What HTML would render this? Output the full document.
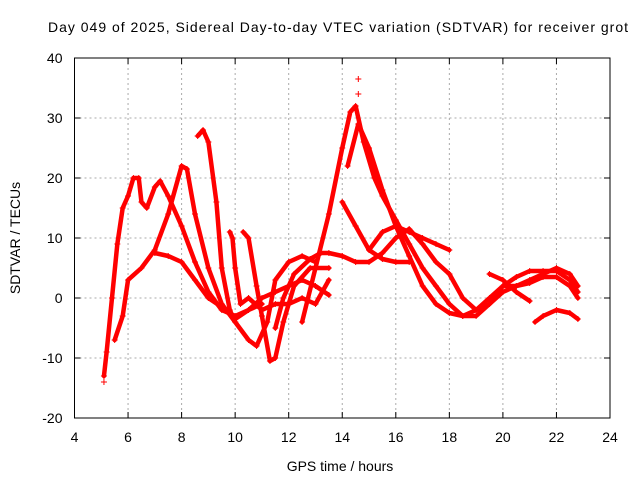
<!DOCTYPE html>
<html><head><meta charset="utf-8"><style>
body{margin:0;background:#fff}
svg{display:block;font-family:"Liberation Sans",sans-serif}
</style></head><body>
<svg id="c" width="640" height="480">
<text x="338" y="32" font-size="14" text-anchor="middle" textLength="580" lengthAdjust="spacing">Day 049 of 2025, Sidereal Day-to-day VTEC variation (SDTVAR) for receiver grot</text>
<text x="340" y="471" font-size="14" text-anchor="middle">GPS time / hours</text>
<text transform="translate(20,238) rotate(-90)" font-size="14" text-anchor="middle">SDTVAR / TECUs</text>
<g id="grid"></g><g id="axes"></g><g id="series"></g>
</svg>
<script>
const xTicks=[4,6,8,10,12,14,16,18,20,22,24];
const yTicks=[-20,-10,0,10,20,30,40];
const track1=[[5.1,-13],[5.2,-9],[5.4,0],[5.6,9],[5.8,15],[6.0,17],[6.2,20],[6.4,20],[6.5,16],[6.7,15],[7.0,18.5],[7.2,19.5],[7.5,17],[8.0,12],[8.5,6],[9.0,1],[9.5,-2],[10,-3],[10.5,-2],[11,-1]];
const track2=[[5.5,-7],[5.8,-3],[6.0,3],[6.5,5],[7.0,8],[7.5,14],[8.0,22],[8.2,21.5],[8.5,14],[9.0,5],[9.5,-1],[10.0,-4],[10.5,-7],[10.8,-8],[11.2,-4],[11.5,3],[12,6],[12.5,7],[13,6]];
const track3=[[8.6,27],[8.8,28],[9.0,26],[9.3,16],[9.5,5],[9.8,-2],[10.0,-4]];
const track4=[[10.3,11],[10.5,10],[10.8,2],[11.0,-3],[11.3,-10.5],[11.5,-10],[11.8,-4],[12.2,2],[12.8,5],[13.5,5]];
const track5=[[7.0,7.5],[7.5,7],[8.0,6],[8.5,3],[9.0,0],[9.5,-1.5],[10,-3.5],[10.5,-2],[11,0],[11.5,1],[12.0,2],[12.5,3],[13,2],[13.5,0.5]];
const track6=[[9.8,11],[9.9,10],[10.0,5],[10.2,-1],[10.5,0],[11.0,-2],[11.5,-1],[12.0,-1],[12.5,0],[13,-1],[13.5,3]];
const track7=[[11.5,-5],[11.8,0],[12.2,4],[12.8,6.5],[13.2,7.5],[13.5,7.5],[14,7],[14.5,6],[15,6],[15.5,7.5],[16,10],[16.5,11.5],[17.0,9],[17.5,6],[18,4]];
const track8=[[14.0,16],[14.5,12],[15,8],[15.5,6.5],[16,6],[16.5,6]];
const track9=[[12.5,-4],[13,5],[13.5,14],[14,25],[14.3,31],[14.5,32],[14.8,26],[15.2,20],[15.5,17],[16,13],[16.5,9],[17,5],[17.5,2],[18,-1],[18.5,-3],[19,-3],[19.5,-1],[20,2],[20.5,2],[21,2.5],[21.5,3.5],[22,3.5],[22.5,2],[22.8,0]];
const track10=[[14.2,22],[14.6,29],[15,25],[15.5,18],[16,12],[16.5,7],[17,2],[17.5,-1],[18,-2.5],[18.5,-3],[19,-2],[19.5,0],[20,2],[20.5,3.5],[21,4.5],[21.5,4.5],[22,4.5],[22.5,3],[22.8,1]];
const track11=[[15,8],[15.5,11],[16,12],[16.5,11],[17,10],[17.5,9],[18,8]];
const track12=[[18,4],[18.5,0],[19,-2],[19.5,-1],[20,1],[20.5,2],[21,3],[21.5,4],[22,5],[22.5,4],[22.8,2]];
const track13=[[21.2,-4],[21.5,-3],[22,-2],[22.5,-2.5],[22.8,-3.5]];
const track14=[[19.5,4],[20,3],[20.5,1],[21,-0.5]];
const outliers=[[14.6,36.5],[14.6,34],[5.1,-14]];
const tracks=[track1,track2,track3,track4,track5,track6,track7,track8,track9,track10,track11,track12,track13,track14];
const X0=74.5,X1=610,Y0=418,Y1=58;
const sx=h=>X0+(h-4)/20*(X1-X0);
const sy=v=>Y0-(v+20)/60*(Y0-Y1);
const NS="http://www.w3.org/2000/svg";
function mk(t,a,p){const e=document.createElementNS(NS,t);for(const k in a)e.setAttribute(k,a[k]);p.appendChild(e);return e;}
const g=document.getElementById('grid'),ax=document.getElementById('axes'),s=document.getElementById('series');
xTicks.forEach(t=>{const x=sx(t);
 if(t>4&&t<24){const l=mk('line',{x1:x,x2:x,y1:Y1,y2:Y0,stroke:'#aaa','stroke-dasharray':'2,3'},g);
 
 }
 mk('line',{x1:x,x2:x,y1:Y0,y2:Y0-6,stroke:'#000'},ax);mk('line',{x1:x,x2:x,y1:Y1,y2:Y1+6,stroke:'#000'},ax);
 const tx=mk('text',{x:x,y:Y0+24,'font-size':14,'text-anchor':'middle'},ax);tx.textContent=t;
 
 });
yTicks.forEach(t=>{const y=sy(t);
 if(t>-20&&t<40){const l=mk('line',{x1:X0,x2:X1,y1:y,y2:y,stroke:'#aaa','stroke-dasharray':'2,3'},g);
 
 }
 mk('line',{x1:X0,x2:X0+6,y1:y,y2:y,stroke:'#000'},ax);mk('line',{x1:X1,x2:X1-6,y1:y,y2:y,stroke:'#000'},ax);
 const tx=mk('text',{x:X0-12,y:y+5,'font-size':14,'text-anchor':'end'},ax);tx.textContent=t;
 
 });
const fr=mk('rect',{x:X0,y:Y1,width:X1-X0,height:Y0-Y1,fill:'none',stroke:'#000'},ax);


function plus(h,v){const x=sx(h),y=sy(v);mk('path',{d:`M${x-3},${y}h6M${x},${y-3}v6`,stroke:'#f00','stroke-width':1},s);}
tracks.forEach(tr=>{
 const p=mk('polyline',{points:tr.map(d=>sx(d[0])+','+sy(d[1])).join(' '),fill:'none',stroke:'#f00','stroke-width':4.5,'stroke-linejoin':'round','stroke-linecap':'round'},s);
 
 
 tr.forEach(d=>plus(d[0],d[1]));});
outliers.forEach(d=>plus(d[0],d[1]));
</script>
</body></html>
